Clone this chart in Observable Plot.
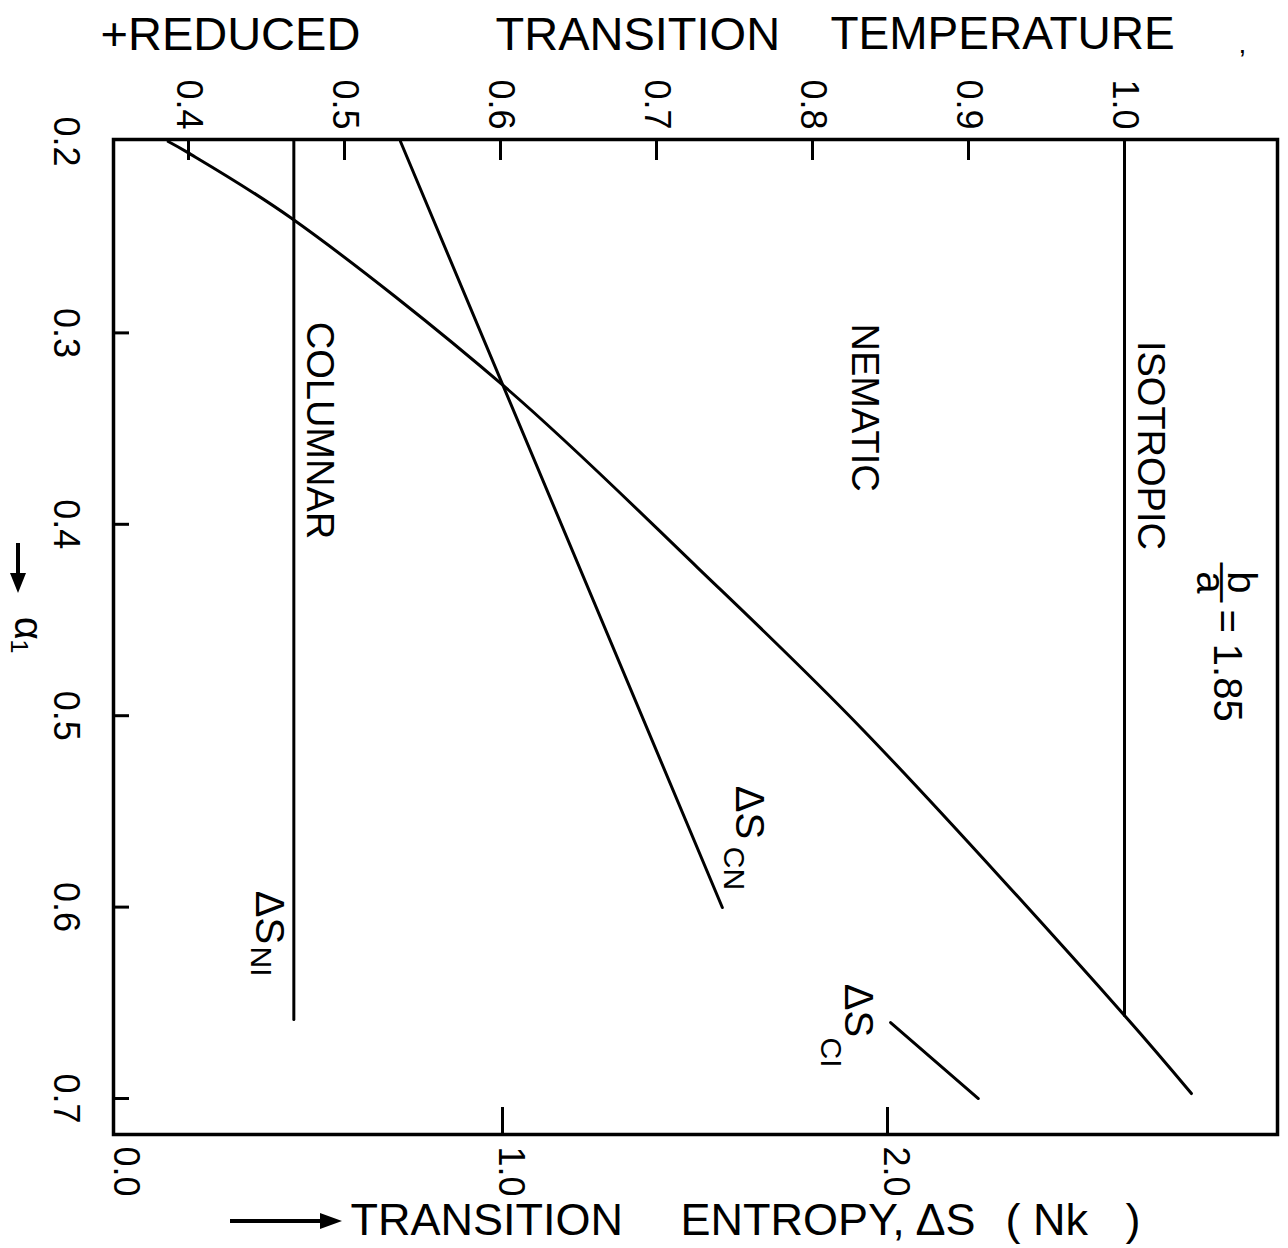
<!DOCTYPE html>
<html><head><meta charset="utf-8">
<script src="https://cdn.jsdelivr.net/npm/d3@7"></script>
<script src="https://cdn.jsdelivr.net/npm/@observablehq/plot@0.6"></script>
<style>body{margin:0;background:#fff} svg{display:block}</style>
</head><body><div id="chart"></div>
<script>
// ---- tick values ----
const alphaTicks = [0.2, 0.3, 0.4, 0.5, 0.6, 0.7];
const tempTicks = [0.4, 0.5, 0.6, 0.7, 0.8, 0.9, 1.0];
const entropyTicks = [0.0, 1.0, 2.0];
// top (temperature) axis aligned against the bottom (entropy) axis
const calTemp = [0.4, 1.0];
const calEntropy = [0.1844, 2.6156];

// ---- series: reduced transition temperatures vs alpha1 ----
const alphaTC = [0.200, 0.2057, 0.240, 0.3285, 0.4226, 0.5077, 0.6566, 0.6974];
const tempTC  = [0.387, 0.3994, 0.4658, 0.6032, 0.7263, 0.8327, 1.000, 1.0429];
const alphaNI = [0.200, 0.6566];
const tempNI  = [1.000, 1.000];

// ---- series: transition entropies vs alpha1 ----
const alphaSNI = [0.200, 0.6587];
const entropySNI = [0.458, 0.458];
const alphaSCN = [0.200, 0.6002];
const entropySCN = [0.735, 1.571];
const alphaSCI = [0.6603, 0.700];
const entropySCI = [2.008, 2.236];

// ---- annotations (label text, entropy-axis x, alpha y, size) ----
const labelText  = ["COLUMNAR", "NEMATIC", "ISOTROPIC", "b", "\u2014", "a", "= 1.85", "\u0394S", "CN", "\u0394S", "NI", "\u0394S", "CI"];
const labelX     = [0.5247, 1.940, 2.681, 2.919, 2.873, 2.836, 2.881, 1.639, 1.600, 0.392, 0.371, 1.922, 1.852];
const labelY     = [0.3510, 0.3390, 0.3588, 0.4304, 0.4304, 0.4304, 0.4738, 0.5506, 0.5798, 0.6054, 0.6284, 0.6540, 0.6760];
const labelSize  = [38, 38, 38, 40, 40, 40, 40, 40, 30, 40, 30, 40, 30];

const tToS = d3.scaleLinear(calTemp, calEntropy);
const zip = (a, b, k1, k2) => a.map((v, i) => ({[k1]: v, [k2]: b[i]}));
const tc = zip(alphaTC, tempTC, "a", "t");
const ni = zip(alphaNI, tempNI, "a", "t");
const sni = zip(alphaSNI, entropySNI, "a", "s");
const scn = zip(alphaSCN, entropySCN, "a", "s");
const sci = zip(alphaSCI, entropySCI, "a", "s");
const labels = labelText.map((t, i) => ({t, x: labelX[i], y: labelY[i], size: labelSize[i]}));

const W = 1288, H = 1248, mL = 113, mR = 11, mT = 139, mB = 114;
const frameW = W - mL - mR, frameH = H - mT - mB;
const FONT = "Liberation Sans, Arial, sans-serif";
const fmt = d3.format(".1f");
const T = (s, o) => Plot.text([s], {lineAnchor: "middle", fontFamily: FONT, ...o});

// decorative axis-title arrows (drawn relative to the plot's margins)
function titleArrow(horizontal) {
  return (index, scales, values, dims) => {
    const g = d3.create("svg:g").attr("fill", "#000").attr("stroke", "#000");
    if (horizontal) {
      const y = dims.height - dims.marginBottom + 87, x0 = dims.marginLeft + 117, x1 = dims.marginLeft + 229;
      g.append("line").attr("x1", x0).attr("x2", x1 - 16).attr("y1", y).attr("y2", y).attr("stroke-width", 4);
      g.append("path").attr("stroke", "none").attr("d", `M${x1},${y} L${x1 - 22},${y - 8} L${x1 - 22},${y + 8} Z`);
    } else {
      const x = dims.marginLeft - 95, y0 = dims.marginTop + 404, y1 = dims.marginTop + 454;
      g.append("line").attr("x1", x).attr("x2", x).attr("y1", y0).attr("y2", y1 - 14).attr("stroke-width", 4);
      g.append("path").attr("stroke", "none").attr("d", `M${x},${y1} L${x - 8},${y1 - 20} L${x + 8},${y1 - 20} Z`);
    }
    return g.node();
  };
}

const marks = [
  Plot.frame({stroke: "#000", strokeWidth: 3.5}),
  // ticks
  Plot.tickY(alphaTicks.slice(1), {y: d => d, insetRight: frameW - 16, strokeWidth: 3}),
  Plot.tickX(tempTicks, {x: d => tToS(d), insetBottom: frameH - 21, strokeWidth: 3}),
  Plot.tickX(entropyTicks.slice(1), {x: d => d, insetTop: frameH - 27, strokeWidth: 3}),
  // tick labels (rotated)
  Plot.text(alphaTicks, {y: d => d, text: fmt, frameAnchor: "left", dx: -48, rotate: 90, textAnchor: "middle", lineAnchor: "middle", fontSize: 36, fontFamily: FONT}),
  Plot.text(tempTicks, {x: d => tToS(d), text: fmt, frameAnchor: "top", dy: -10, rotate: 90, textAnchor: "end", lineAnchor: "middle", fontSize: 36, fontFamily: FONT}),
  Plot.text(entropyTicks, {x: d => d, text: fmt, frameAnchor: "bottom", dx: 8, dy: 12, rotate: 90, textAnchor: "start", lineAnchor: "middle", fontSize: 36, fontFamily: FONT}),
  // curves
  Plot.line(tc, {x: d => tToS(d.t), y: "a", curve: "catmull-rom", stroke: "#000", strokeWidth: 3}),
  Plot.line(ni, {x: d => tToS(d.t), y: "a", stroke: "#000", strokeWidth: 3}),
  Plot.line(sni, {x: "s", y: "a", stroke: "#000", strokeWidth: 3}),
  Plot.line(scn, {x: "s", y: "a", stroke: "#000", strokeWidth: 3}),
  Plot.line(sci, {x: "s", y: "a", stroke: "#000", strokeWidth: 3}),
  // annotations
  Plot.text(labels, {x: "x", y: "y", text: "t", fontSize: d => d.size, rotate: 90, textAnchor: "middle", lineAnchor: "middle", fontFamily: FONT}),
  // axis titles
  T("+REDUCED", {frameAnchor: "top-left", dx: 100 - mL, dy: 34 - mT, textAnchor: "start", fontSize: 47}),
  T("TRANSITION", {frameAnchor: "top-left", dx: 495 - mL, dy: 34 - mT, textAnchor: "start", fontSize: 47}),
  T("TEMPERATURE", {frameAnchor: "top-left", dx: 830 - mL, dy: 34 - mT, textAnchor: "start", fontSize: 46}),
  T(",", {frameAnchor: "top-left", dx: 1238 - mL, dy: 44 - mT, textAnchor: "start", fontSize: 28}),
  titleArrow(true),
  T("TRANSITION", {frameAnchor: "bottom-left", dx: 350 - mL, dy: 1220 - (H - mB), textAnchor: "start", fontSize: 45}),
  T("ENTROPY,", {frameAnchor: "bottom-left", dx: 680 - mL, dy: 1220 - (H - mB), textAnchor: "start", fontSize: 45}),
  T("\u0394S", {frameAnchor: "bottom-left", dx: 915 - mL, dy: 1220 - (H - mB), textAnchor: "start", fontSize: 45}),
  T("(\u00a0Nk\u00a0\u00a0\u00a0)", {frameAnchor: "bottom-left", dx: 1005 - mL, dy: 1220 - (H - mB), textAnchor: "start", fontSize: 45}),
  titleArrow(false),
  T("\u03B1\u2081", {frameAnchor: "left", dx: 27 - mL, dy: -2, rotate: 90, textAnchor: "middle", fontSize: 40})
];

const chart = Plot.plot({
  width: W, height: H,
  marginLeft: mL, marginRight: mR, marginTop: mT, marginBottom: mB,
  x: {domain: [-0.0104, 3.0130], axis: null},
  y: {domain: [0.19896, 0.7188], reverse: true, axis: null},
  style: {background: "#fff", color: "#000"},
  marks
});
document.getElementById("chart").appendChild(chart);
</script></body></html>
